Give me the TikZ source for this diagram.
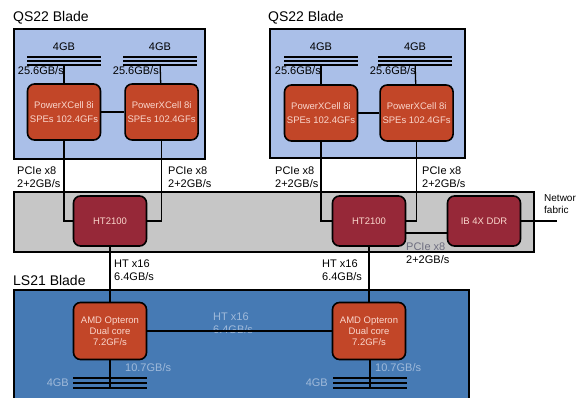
\documentclass[tikz,border=0pt]{standalone}
\usepackage{fontspec}
\setmainfont{Liberation Sans}
\usepackage{xcolor}
\usetikzlibrary{positioning, calc}
\definecolor{qsblue}{RGB}{170,191,232}
\definecolor{bladegray}{RGB}{198,198,198}
\definecolor{lsblue}{RGB}{70,122,180}
\definecolor{cellred}{RGB}{194,70,40}
\definecolor{htred}{RGB}{150,40,56}
\definecolor{chiptext}{RGB}{250,215,205}
\definecolor{lslabel}{RGB}{160,186,218}
\definecolor{pciegray}{RGB}{110,110,128}
\tikzset{
  blade/.style={draw, line width=1.8pt, inner sep=0pt, anchor=north west},
  chip/.style={draw, line width=1.6pt, rounded corners=7pt, align=center, text=chiptext, inner sep=0pt},
  cell/.style={chip, fill=cellred, minimum width=73pt, minimum height=56pt, font=\fontsize{9.5}{14}\selectfont},
  bridge/.style={chip, fill=htred, minimum width=73pt, minimum height=50pt, font=\fontsize{9.5}{12}\selectfont},
  opteron/.style={chip, fill=cellred, minimum width=73pt, minimum height=57pt, font=\fontsize{9.5}{11}\selectfont},
  mem/.style={inner sep=0pt, minimum width=73pt, minimum height=8pt},
  memline/.style={line width=2.3pt},
  link/.style={line width=1.3pt},
  title/.style={font=\fontsize{14}{16}\selectfont, anchor=west, inner sep=0pt},
  lbl/.style={font=\fontsize{11}{13.5}\selectfont, align=left, inner sep=0pt},
  lslbl/.style={lbl, text=lslabel}
}

\begin{document}
\begin{tikzpicture}[x=1pt, y=-1pt]
    \useasboundingbox (0,0) rectangle (580,398);
    \clip (0,0) rectangle (580,398);
    \fill[white] (0,0) rectangle (580,398);

    % blades
    \node[blade, fill=qsblue, minimum width=191pt, minimum height=130pt] (qsA) at (13,28) {};
    \node[blade, fill=qsblue, minimum width=195pt, minimum height=129pt] (qsB) at (269,28) {};
    \node[blade, fill=bladegray, minimum width=520pt, minimum height=60pt] (mid) at (13,191) {};
    \node[blade, fill=lsblue, minimum width=455pt, minimum height=140pt] (ls) at (13,289) {};
    \node[title] (qsAtitle) at (13,18) {QS22 Blade};
    \node[title] (qsBtitle) at (268,18) {QS22 Blade};
    \node[title] (lstitle) at (13,280) {LS21 Blade};

    % Cell processors and memory
    \node[cell] (cellA) at (64,112) {PowerXCell 8i\\SPEs 102.4GFs};
    \node[cell, right=23pt of cellA] (cellB) {PowerXCell 8i\\SPEs 102.4GFs};
    \node[cell] (cellC) at (321,113) {PowerXCell 8i\\SPEs 102.4GFs};
    \node[cell, right=21pt of cellC] (cellD) {PowerXCell 8i\\SPEs 102.4GFs};
    \node[mem] (memA) at (64,61) {};
    \node[mem] (memB) at (160,61) {};
    \node[mem] (memC) at (321,61) {};
    \node[mem] (memD) at (415,61) {};
    \node[lbl, above=6pt of memA] (gbA) {4GB};
    \node[lbl, above=6pt of memB] (gbB) {4GB};
    \node[lbl, above=6pt of memC] (gbC) {4GB};
    \node[lbl, above=6pt of memD] (gbD) {4GB};
    \node[lbl, anchor=east] (bwA) at (64,71) {25.6GB/s};
    \node[lbl, anchor=east] (bwB) at (159,71) {25.6GB/s};
    \node[lbl, anchor=east] (bwC) at (321,71) {25.6GB/s};
    \node[lbl, anchor=east] (bwD) at (416,71) {25.6GB/s};

    % bridges
    \node[bridge] (htA) at (110,221) {HT2100};
    \node[bridge] (htB) at (369,221) {HT2100};
    \node[bridge] (ib) at (484,221) {IB 4X DDR};
    \coordinate (fabric) at (557,221);
    \node[lbl, anchor=west, font=\fontsize{10}{12}\selectfont] (fabriclbl) at (544,204) {Networ\\fabric};
    \node[lbl, anchor=west] (pcieA) at (17,177) {PCIe x8\\2+2GB/s};
    \node[lbl, anchor=west] (pcieB) at (168,177) {PCIe x8\\2+2GB/s};
    \node[lbl, anchor=west] (pcieC) at (275,177) {PCIe x8\\2+2GB/s};
    \node[lbl, anchor=west] (pcieD) at (422,177) {PCIe x8\\2+2GB/s};
    \node[lbl, anchor=west] (pcieE) at (406,253) {\textcolor{pciegray}{PCIe x8}\\2+2GB/s};
    \node[lbl, anchor=west] (htlblA) at (114,270) {HT x16\\6.4GB/s};
    \node[lbl, anchor=west] (htlblB) at (322,270) {HT x16\\6.4GB/s};

    % Opterons
    \node[opteron] (amdA) at (110,331) {AMD Opteron\\Dual core\\7.2GF/s};
    \node[opteron] (amdB) at (369,331) {AMD Opteron\\Dual core\\7.2GF/s};
    \node[mem, minimum height=10pt] (memE) at (110,383) {};
    \node[mem, minimum height=10pt] (memF) at (370,383) {};
    \node[lslbl, anchor=west] (lsht) at (213,323) {HT x16\\6.4GB/s};
    \node[lslbl, anchor=west] (bwE) at (125,368) {10.7GB/s};
    \node[lslbl, anchor=west] (bwF) at (375,368) {10.7GB/s};
    \node[lslbl, anchor=east] (gbE) at (69,383) {4GB};
    \node[lslbl, anchor=east] (gbF) at (328,383) {4GB};

    \foreach \m in {memA,memB,memC,memD,memE,memF} {
      \draw[memline] (\m.north west) -- (\m.north east);
      \draw[memline] (\m.west) -- (\m.east);
      \draw[memline] (\m.south west) -- (\m.south east);
    }

    \draw[link] (memA) -- (cellA);
    \draw[link] (memB) -- (cellB);
    \draw[link] (memC) -- (cellC);
    \draw[link] (memD) -- (cellD);
    \draw[link] (cellA) -- (cellB);
    \draw[link] (cellC) -- (cellD);
    \draw[link] (cellA.south) |- (htA.west);
    \draw[link] (cellB.south) |- (htA.east);
    \draw[link] (cellC.south) |- (htB.west);
    \draw[link] (cellD.south) |- (htB.east);
    \draw[link] ([yshift=-12pt]htB.east) -- ([yshift=-12pt]ib.west);
    \draw[link] (ib) -- (fabric);
    \draw[link] (htA) -- (amdA);
    \draw[link] (htB) -- (amdB);
    \draw[link] (amdA) -- (amdB);
    \draw[link] (amdA) -- (memE.south);
    \draw[link] (amdB.south -| memF.south) -- (memF.south);
\end{tikzpicture}
\end{document}
